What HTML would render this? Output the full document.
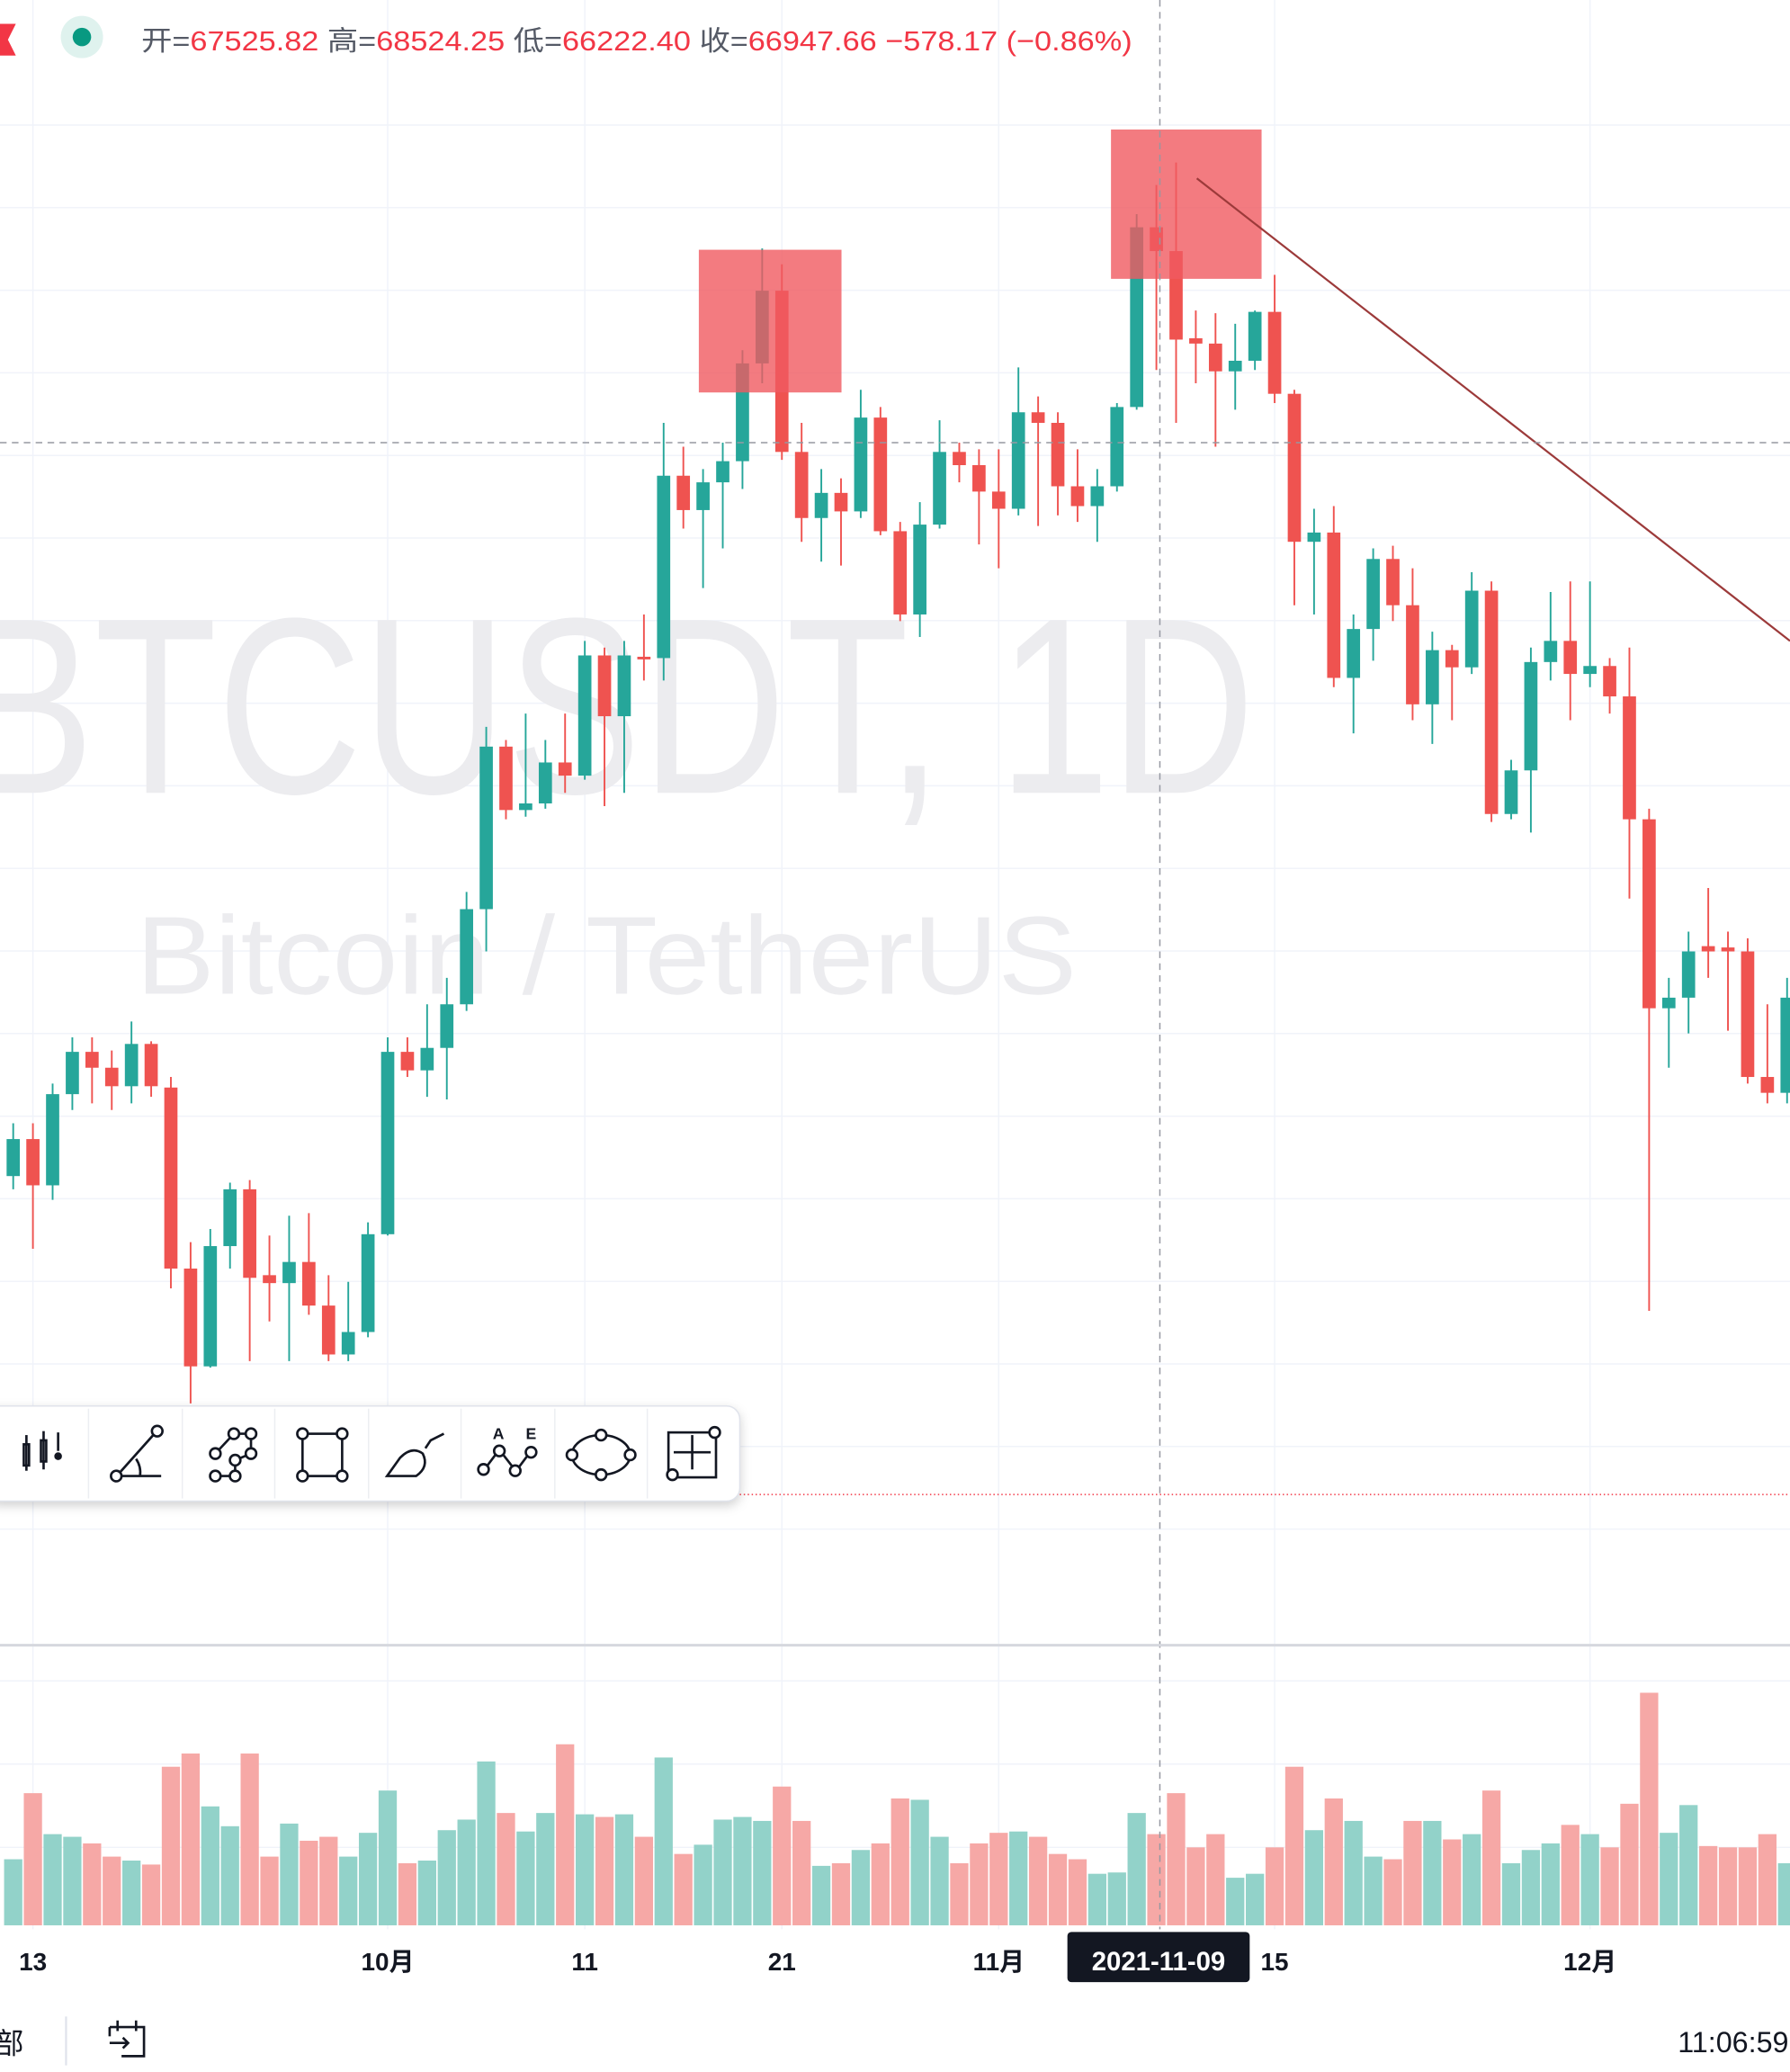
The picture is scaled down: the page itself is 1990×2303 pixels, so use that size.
<!DOCTYPE html>
<html><head><meta charset="utf-8"><title>BTCUSDT 1D</title>
<style>
html,body{margin:0;padding:0;background:#fff;}
svg{display:block;}
text{font-family:"Liberation Sans","Noto Sans CJK SC",sans-serif;}
</style></head>
<body>
<svg id="chart" width="1990" height="2303" viewBox="0 0 1355 1568" preserveAspectRatio="none" xmlns="http://www.w3.org/2000/svg">
  <rect x="0" y="0" width="1355" height="1568" fill="#ffffff"/>
  <g id="grid"></g>
  <text x="-30" y="600" font-size="190" fill="#ececef" textLength="980" lengthAdjust="spacingAndGlyphs">BTCUSDT, 1D</text>
  <text x="103" y="752" font-size="84" fill="#ececef" textLength="712" lengthAdjust="spacingAndGlyphs">Bitcoin / TetherUS</text>
  <g id="volumes"></g>
  <g id="candles"></g>
  <rect x="529" y="189" width="108" height="108" fill="#f05a60" fill-opacity="0.8"/>
  <rect x="841" y="98" width="114" height="113" fill="#f05a60" fill-opacity="0.8"/>
  <line x1="906" y1="135" x2="1355" y2="485" stroke="#9c3a3a" stroke-width="1.5"/>
  <line x1="878" y1="0" x2="878" y2="1460" stroke="#9598a1" stroke-width="1" stroke-dasharray="5,4"/>
  <line x1="0" y1="335" x2="1355" y2="335" stroke="#9598a1" stroke-width="1" stroke-dasharray="5,4"/>
  <line x1="560" y1="1131" x2="1355" y2="1131" stroke="#f23645" stroke-width="1" stroke-dasharray="1,2"/>
  <polygon points="0,18 12,18 6,30 12,42 0,42" fill="#f23645"/>
  <circle cx="62" cy="28" r="16" fill="#dff2ee"/>
  <circle cx="62" cy="28" r="7" fill="#089981"/>
  <text x="107" y="38" font-size="21" fill="#555a66" textLength="750" lengthAdjust="spacingAndGlyphs">开=<tspan fill="#f23645">67525.82</tspan> 高=<tspan fill="#f23645">68524.25</tspan> 低=<tspan fill="#f23645">66222.40</tspan> 收=<tspan fill="#f23645">66947.66</tspan> <tspan fill="#f23645">−578.17 (−0.86%)</tspan></text>
  <g>
    <rect x="-10" y="1064" width="570" height="72" rx="10" fill="#ffffff" stroke="#e0e3eb" stroke-width="1" style="filter:drop-shadow(0 3px 4px rgba(0,0,0,0.18))"/>
    <g stroke="#eceef2" stroke-width="1">
      <line x1="67" y1="1066" x2="67" y2="1134"/><line x1="138" y1="1066" x2="138" y2="1134"/><line x1="208" y1="1066" x2="208" y2="1134"/><line x1="279" y1="1066" x2="279" y2="1134"/><line x1="349" y1="1066" x2="349" y2="1134"/><line x1="420" y1="1066" x2="420" y2="1134"/><line x1="490" y1="1066" x2="490" y2="1134"/>
    </g>
    <g fill="none" stroke="#131722" stroke-width="1.8">
      <g><rect x="18" y="1093" width="4" height="16"/><rect x="31" y="1090" width="4" height="16"/><line x1="20" y1="1086" x2="20" y2="1113"/><line x1="33" y1="1083" x2="33" y2="1112"/><line x1="44" y1="1084" x2="44" y2="1098"/><circle cx="44" cy="1102" r="2" fill="#131722"/></g>
      <g><circle cx="88" cy="1117" r="4"/><circle cx="119" cy="1083" r="4"/><line x1="91" y1="1114" x2="116" y2="1086"/><line x1="92" y1="1117" x2="122" y2="1117"/><path d="M103 1104 Q107 1110 106 1117"/></g>
      <g><path d="M163 1117 L178 1117 L178 1105 L190 1100 L190 1085 L177 1085 L163 1100"/><circle cx="163" cy="1117" r="4" fill="#fff"/><circle cx="178" cy="1117" r="4" fill="#fff"/><circle cx="163" cy="1100" r="4" fill="#fff"/><circle cx="178" cy="1105" r="4" fill="#fff"/><circle cx="177" cy="1085" r="4" fill="#fff"/><circle cx="190" cy="1085" r="4" fill="#fff"/><circle cx="190" cy="1100" r="4" fill="#fff"/></g>
      <g><rect x="229" y="1085" width="30" height="32"/><circle cx="229" cy="1085" r="4" fill="#fff"/><circle cx="259" cy="1085" r="4" fill="#fff"/><circle cx="229" cy="1117" r="4" fill="#fff"/><circle cx="259" cy="1117" r="4" fill="#fff"/></g>
      <g><path d="M293 1117 L315 1117 Q325 1110 320 1100 Q312 1094 303 1103 Z"/><path d="M322 1096 L326 1090 L336 1085"/></g>
      <g><circle cx="366" cy="1112" r="4"/><circle cx="378" cy="1098" r="4"/><circle cx="390" cy="1113" r="4"/><circle cx="402" cy="1099" r="4"/><line x1="369" y1="1109" x2="375" y2="1101"/><line x1="381" y1="1101" x2="388" y2="1110"/><line x1="393" y1="1110" x2="399" y2="1102"/></g>
      <g><ellipse cx="455" cy="1101" rx="22" ry="15"/><circle cx="433" cy="1101" r="4" fill="#fff"/><circle cx="477" cy="1101" r="4" fill="#fff"/><circle cx="455" cy="1086" r="4" fill="#fff"/><circle cx="455" cy="1116" r="4" fill="#fff"/></g>
      <g><rect x="506" y="1084" width="36" height="34"/><line x1="510" y1="1099" x2="538" y2="1099"/><line x1="524" y1="1086" x2="524" y2="1112"/><circle cx="509" cy="1116" r="4" fill="#fff"/><circle cx="541" cy="1084" r="4" fill="#fff"/></g>
    </g>
    <text x="373" y="1089" font-size="12" font-weight="bold" fill="#131722">A</text>
    <text x="398" y="1089" font-size="12" font-weight="bold" fill="#131722">E</text>
  </g>
  <line x1="0" y1="1245" x2="1355" y2="1245" stroke="#d6d8de" stroke-width="2"/>
  <g id="timeaxis"></g>
  <rect x="808" y="1462" width="138" height="38" rx="3" fill="#131722"/>
  <text x="877" y="1491" font-size="20" font-weight="bold" fill="#ffffff" text-anchor="middle">2021-11-09</text>
  <text x="-4" y="1554" font-size="22" fill="#131722">部</text>
  <line x1="50" y1="1526" x2="50" y2="1563" stroke="#e0e3eb" stroke-width="1.5"/>
  <g fill="none" stroke="#131722" stroke-width="1.8">
    <path d="M83 1534 L109 1534 L109 1556 L92 1556"/><line x1="83" y1="1534" x2="83" y2="1541"/><line x1="89" y1="1529" x2="89" y2="1537"/><line x1="103" y1="1529" x2="103" y2="1537"/><line x1="83" y1="1546" x2="97" y2="1546"/><path d="M93 1542 L97 1546 L93 1550"/>
  </g>
  <text x="1354" y="1553" font-size="22" fill="#131722" text-anchor="end">11:06:59</text>
</svg>
<script>
const opens  = [44549,45445,44325,46533,47557,47173,46725,47749,46693,42309,39941,42853,44229,42149,41957,42469,41413,40229,40773,43141,47557,47109,47653,48709,51013,54949,53413,53573,54565,54245,57157,55685,57125,57093,61509,60677,61349,61861,64229,65989,62085,60485,61093,60645,62917,60165,58149,60325,62085,61765,61125,60709,63045,62789,61253,60773,61253,63173,67525,66949,64837,64709,64037,64293,65477,63493,59909,60133,56613,57797,59493,58373,55973,57285,56869,58725,53317,54373,56997,57509,56709,56901,56165,53189,48613,48869,50117,50085,49989,46949,46565];
const highs  = [45829,45829,46789,47909,47909,47589,48293,47813,46949,42949,43269,44389,44453,43109,43589,43653,42149,41989,43429,47909,47909,48709,49349,51429,55429,55109,55749,55109,55749,57509,57349,57509,58149,62789,62213,61669,62309,64549,67013,66629,62789,61669,61445,63589,63173,60389,60869,62853,62309,62149,62149,64133,63429,63045,62149,61669,63269,67845,68549,69093,65509,65445,65189,65509,66373,63589,60709,60773,58149,59749,59813,59269,57733,57413,59173,58949,54629,57349,58693,58949,58949,57093,57349,53445,49349,50469,51525,50469,50309,48709,49349];
const lows   = [44229,42789,43973,46149,46309,46149,46309,46469,41829,39045,39909,42309,40069,41029,40069,41189,40069,40069,40645,43109,46949,46469,46405,48549,49989,53189,53253,53445,53829,54149,53509,53829,56549,56549,60229,58789,59749,61189,63749,61893,59909,59429,59333,60485,60069,57989,57605,60229,61349,59845,59269,60549,60293,60549,60389,59909,61125,63109,64069,62789,63749,62213,63109,64069,63269,58373,58149,56389,55269,57029,57989,55589,55013,55589,56709,53125,53189,52869,56549,55589,56389,55749,51269,41285,47173,48005,49349,48069,46789,46309,46309];
const closes = [45445,44325,46533,47557,47173,46725,47749,46725,42309,39941,42853,44229,42085,41957,42469,41413,40229,40773,43141,47557,47109,47653,48709,51013,54949,53413,53573,54565,54245,57157,55685,57157,57061,61509,60677,61349,61861,64229,65989,62085,60485,61093,60645,62917,60165,58149,60325,62085,61765,61125,60709,63045,62789,61253,60773,61253,63173,67525,66949,64805,64709,64037,64293,65477,63493,59909,60133,56613,57797,59493,58373,55973,57285,56869,58725,53317,54373,56997,57509,56709,56901,56165,53189,48613,48869,49989,49989,49989,46949,46565,48869];
const volumes = [50,100,69,67,62,52,49,46,120,130,90,75,130,52,77,64,67,52,70,102,47,49,72,80,124,85,71,85,137,84,82,84,67,127,54,61,80,82,79,105,79,45,47,57,62,96,95,67,47,62,70,71,67,54,50,39,40,85,69,100,59,69,36,39,59,120,72,96,79,52,50,79,79,65,69,102,47,57,62,76,69,59,92,176,70,91,60,59,59,69,47];
const timeLabels = ["13","10月","11","21","11月","15","12月"];
const timeLabelIdx = [1,19,29,39,50,64,80];
const priceGridLevels = [70000,68000,66000,64000,62000,60000,58000,56000,54000,52000,50000,48000,46000,44000,42000,40000,38000,36000];

const NS = "http://www.w3.org/2000/svg";
function xScale(i){ return 10 + i*14.92; }
function yScale(p){ return (73029 - p)/32; }
function vScale(v){ return 1457 - v; }
function mk(tag, attrs, parent){ const e=document.createElementNS(NS,tag); for(const k in attrs) e.setAttribute(k,attrs[k]); parent.appendChild(e); return e; }

const grid = document.getElementById('grid');
priceGridLevels.forEach(function(p){
  const y = yScale(p);
  const l = mk('line',{x1:0,x2:1355,y1:y,y2:y,stroke:'#f0f3fa','stroke-width':1},grid);
  
  
});
[1272,1335,1398].forEach(function(y){
  const l = mk('line',{x1:0,x2:1355,y1:y,y2:y,stroke:'#f0f3fa','stroke-width':1},grid);
  
  
});
timeLabelIdx.forEach(function(i){
  const x = xScale(i);
  const l = mk('line',{x1:x,x2:x,y1:0,y2:1460,stroke:'#f0f3fa','stroke-width':1},grid);
  
  
});

const vg = document.getElementById('volumes');
volumes.forEach(function(v,i){
  const up = closes[i] >= opens[i];
  const r = mk('rect',{x:xScale(i)-6.9,y:vScale(v),width:13.8,height:1457-vScale(v),fill: up?'#92d2c9':'#f6a8a6'},vg);
  
  
});

const cg = document.getElementById('candles');
opens.forEach(function(o,i){
  const c = closes[i], up = c >= o, col = up ? '#26a69a' : '#ef5350';
  const x = xScale(i);
  const g = mk('g',{},cg);
  
  
  mk('line',{x1:x,x2:x,y1:yScale(highs[i]),y2:yScale(lows[i]),stroke:col,'stroke-width':1.3},g);
  const top = yScale(Math.max(o,c)), bot = yScale(Math.min(o,c));
  mk('rect',{x:x-5,y:top,width:10,height:Math.max(bot-top,1.5),fill:col},g);
});

const ta = document.getElementById('timeaxis');
timeLabels.forEach(function(t,i){
  const tx = mk('text',{x:xScale(timeLabelIdx[i]),y:1491,'font-size':19,'font-weight':'bold',fill:'#131722','text-anchor':'middle'},ta);
  tx.textContent = t;
  
  
});
</script>
</body></html>
